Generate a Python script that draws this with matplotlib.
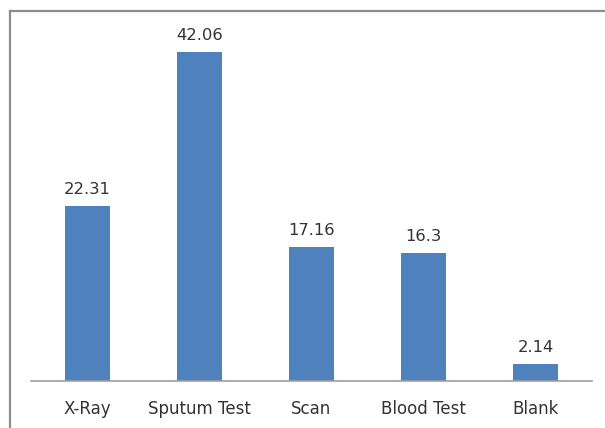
import matplotlib
matplotlib.use("Agg")
import matplotlib.pyplot as plt
from matplotlib.lines import Line2D

categories = ["X-Ray", "Sputum Test", "Scan", "Blood Test", "Blank"]
values = [22.31, 42.06, 17.16, 16.3, 2.14]
value_labels = ["22.31", "42.06", "17.16", "16.3", "2.14"]

BAR_COLOR = "#4F81BD"
TEXT_COLOR = "#333333"

plt.rcParams["font.family"] = ["DejaVu Sans"]

fig = plt.figure(figsize=(6.05, 4.28), dpi=100)
fig.patch.set_facecolor("white")
ax = fig.add_axes([31 / 605, 47 / 428, 561 / 605, 352 / 428])

x = range(len(categories))
ax.bar(x, values, width=0.4, color=BAR_COLOR, edgecolor="none")

for xi, v, lab in zip(x, values, value_labels):
    ax.annotate(lab, (xi, v), xytext=(0, 6.5), textcoords="offset points",
                ha="center", va="bottom", fontsize=11.8, color=TEXT_COLOR)

ax.set_xlim(-0.5, len(categories) - 0.5)
ax.set_ylim(0, 45)
ax.set_xticks(list(x))
ax.set_xticklabels(categories, fontsize=12, color=TEXT_COLOR)
ax.tick_params(axis="x", length=0, pad=13.5)
ax.set_yticks([])

for side in ["top", "right", "left"]:
    ax.spines[side].set_visible(False)
ax.spines["bottom"].set_color("#A0A0A0")
ax.spines["bottom"].set_linewidth(1.2)

# outer frame (left and top edges visible in the picture)
fx = 9.5 / 605
fy = 1 - 10.5 / 428
fig.add_artist(Line2D([fx, fx], [0, fy], color="#8C8C8C", linewidth=1.6))
fig.add_artist(Line2D([fx, 1], [fy, fy], color="#8C8C8C", linewidth=1.6))

fig.savefig("out.png", dpi=100)
